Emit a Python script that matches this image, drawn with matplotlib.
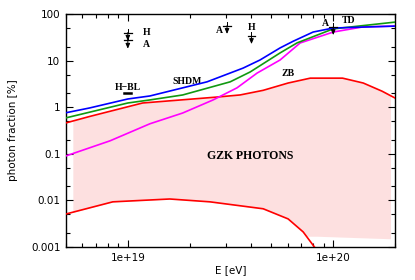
import numpy as np
import matplotlib
matplotlib.use("Agg")
import matplotlib.pyplot as plt
from matplotlib.ticker import LogLocator, FixedLocator, NullFormatter

# --------- data ---------
# SHDM-type curves (blue / green)
e_blue = [5.0e18, 6.5e18, 1.0e19, 1.28e19, 1.85e19, 2.43e19, 3.64e19, 4.4e19, 5.51e19, 6.38e19, 7.98e19, 1.0e20, 2.0e20]
f_blue = [0.76, 0.96, 1.5, 1.74, 2.6, 3.5, 6.9, 10.3, 18.7, 26, 41, 50, 55]

e_green = [5.0e18, 1.0e19, 1.28e19, 1.85e19, 3.15e19, 3.94e19, 5.51e19, 6.67e19, 1.0e20, 2.0e20]
f_green = [0.59, 1.23, 1.43, 1.83, 3.5, 5.7, 14.6, 24, 48, 67]

# ZB (magenta)
e_zb = [5.0e18, 8.2e18, 1.28e19, 1.85e19, 2.6e19, 3.4e19, 4.26e19, 5.51e19, 6.9e19, 1.0e20, 1.4e20, 2.0e20]
f_zb = [0.09, 0.19, 0.44, 0.75, 1.43, 2.6, 5.4, 10.3, 23.9, 41, 53, 55]

# GZK photons band (red)
e_gzk_hi = [5.0e18, 6.5e18, 1.18e19, 2.72e19, 3.52e19, 4.56e19, 6.03e19, 7.73e19, 1.11e20, 1.4e20, 1.73e20, 2.0e20]
f_gzk_hi = [0.46, 0.63, 1.23, 1.65, 1.83, 2.3, 3.3, 4.2, 4.2, 3.3, 2.2, 1.57]

e_gzk_lo = [5.0e18, 8.45e18, 1.6e19, 2.51e19, 4.56e19, 6.03e19, 7.14e19, 8.6e19]
f_gzk_lo = [0.0051, 0.0093, 0.0107, 0.0093, 0.0066, 0.004, 0.0021, 0.0007]

# floor of the shaded band on the right
e_floor = [8.3e19, 1.9e20]
f_floor = [0.0017, 0.0015]

# upper limits
lim_e = [1.0e19, 1.0e19, 3.04e19, 4.0e19, 1.0e20]
lim_f = [40, 27, 56, 34, 53]

hbl_e = 1.0e19
hbl_f = 2.0

# --------- figure ---------
fig = plt.figure(figsize=(4.15, 2.8), dpi=100)
ax = fig.add_axes([0.159, 0.118, 0.793, 0.832])
ax.set_xscale("log")
ax.set_yscale("log")
ax.set_xlim(5e18, 2e20)
ax.set_ylim(0.001, 100)

# shaded band between the red curves
band_e = np.logspace(np.log10(5.4e18), np.log10(1.9e20), 300)
lx = np.log10(band_e)
top = 10 ** np.interp(lx, np.log10(e_gzk_hi), np.log10(f_gzk_hi))
low = 10 ** np.interp(lx, np.log10(e_gzk_lo), np.log10(f_gzk_lo))
flo = 10 ** np.interp(lx, np.log10(e_floor), np.log10(f_floor))
bottom = np.maximum(low, flo)
ax.fill_between(band_e, bottom, top, color="#fde0e0", lw=0, zorder=1)

lw = 1.2
ax.plot(e_gzk_hi, f_gzk_hi, color="#ff0000", lw=lw, zorder=3)
ax.plot(e_gzk_lo, f_gzk_lo, color="#ff0000", lw=lw, zorder=3)
ax.plot(e_zb, f_zb, color="#ff00ff", lw=lw, zorder=3)
ax.plot(e_green, f_green, color="#119911", lw=lw, zorder=4)
ax.plot(e_blue, f_blue, color="#0000ff", lw=lw, zorder=5)

# upper limit markers: bar + downward arrow
for e, f in zip(lim_e, lim_f):
    ax.plot([e / 1.045, e * 1.045], [f, f], color="black", lw=0.9, zorder=6)
    ax.plot([e, e], [f * 1.22, f], color="black", lw=0.7, zorder=6)
    ax.annotate("", xy=(e, f / 1.5), xytext=(e, f),
                arrowprops=dict(arrowstyle="-|>,head_length=0.3,head_width=0.13",
                                color="black", lw=0.7, shrinkA=0, shrinkB=0), zorder=6)

ax.plot([hbl_e / 1.04, hbl_e * 1.04], [hbl_f, hbl_f], color="black", lw=1.8, zorder=6)

# --------- labels inside ---------
tfont = dict(family="Liberation Serif", fontweight="bold", fontsize=7)
ax.text(1.18e19, 40, "H", va="center", ha="left", **tfont)
ax.text(1.18e19, 22, "A", va="center", ha="left", **tfont)
ax.text(2.9e19, 44, "A", va="center", ha="right", **tfont)
ax.text(4.0e19, 52, "H", va="center", ha="center", **tfont)
ax.text(9.2e19, 62, "A", va="center", ha="center", **tfont)
ax.text(1.1e20, 72, "TD", va="center", ha="left", **tfont)
ax.text(1.0e19, 2.7, "H\u2212BL", va="center", ha="center", **tfont)
ax.text(1.65e19, 3.6, "SHDM", va="center", ha="left", **tfont)
ax.text(5.6e19, 5.2, "ZB", va="center", ha="left", **tfont)
ax.text(2.43e19, 0.088, "GZK PHOTONS", va="center", ha="left",
        family="Liberation Serif", fontweight="bold", fontsize=8.5)

# --------- axes styling ---------
ax.set_xlabel("E [eV]", fontsize=7.5, labelpad=2)
ax.set_ylabel("photon fraction [%]", fontsize=7.5, labelpad=9)

ax.xaxis.set_major_locator(FixedLocator([1e19, 1e20]))
ax.set_xticklabels(["1e+19", "1e+20"])
ax.xaxis.set_minor_locator(LogLocator(base=10, subs=np.arange(2, 10)))
ax.xaxis.set_minor_formatter(NullFormatter())

yt = [0.001, 0.01, 0.1, 1, 10, 100]
ax.yaxis.set_major_locator(FixedLocator(yt))
ax.set_yticklabels(["0.001", "0.01", "0.1", "1", "10", "100"])
ax.yaxis.set_minor_locator(LogLocator(base=10, subs=(2.0, 5.0)))
ax.yaxis.set_minor_formatter(NullFormatter())

ax.tick_params(which="both", direction="in", top=True, right=True, labelsize=7.5, width=0.8)
ax.tick_params(which="major", length=5, pad=4)
ax.tick_params(which="minor", length=3)
for s in ax.spines.values():
    s.set_linewidth(1.0)

fig.savefig("out.png", dpi=100)
